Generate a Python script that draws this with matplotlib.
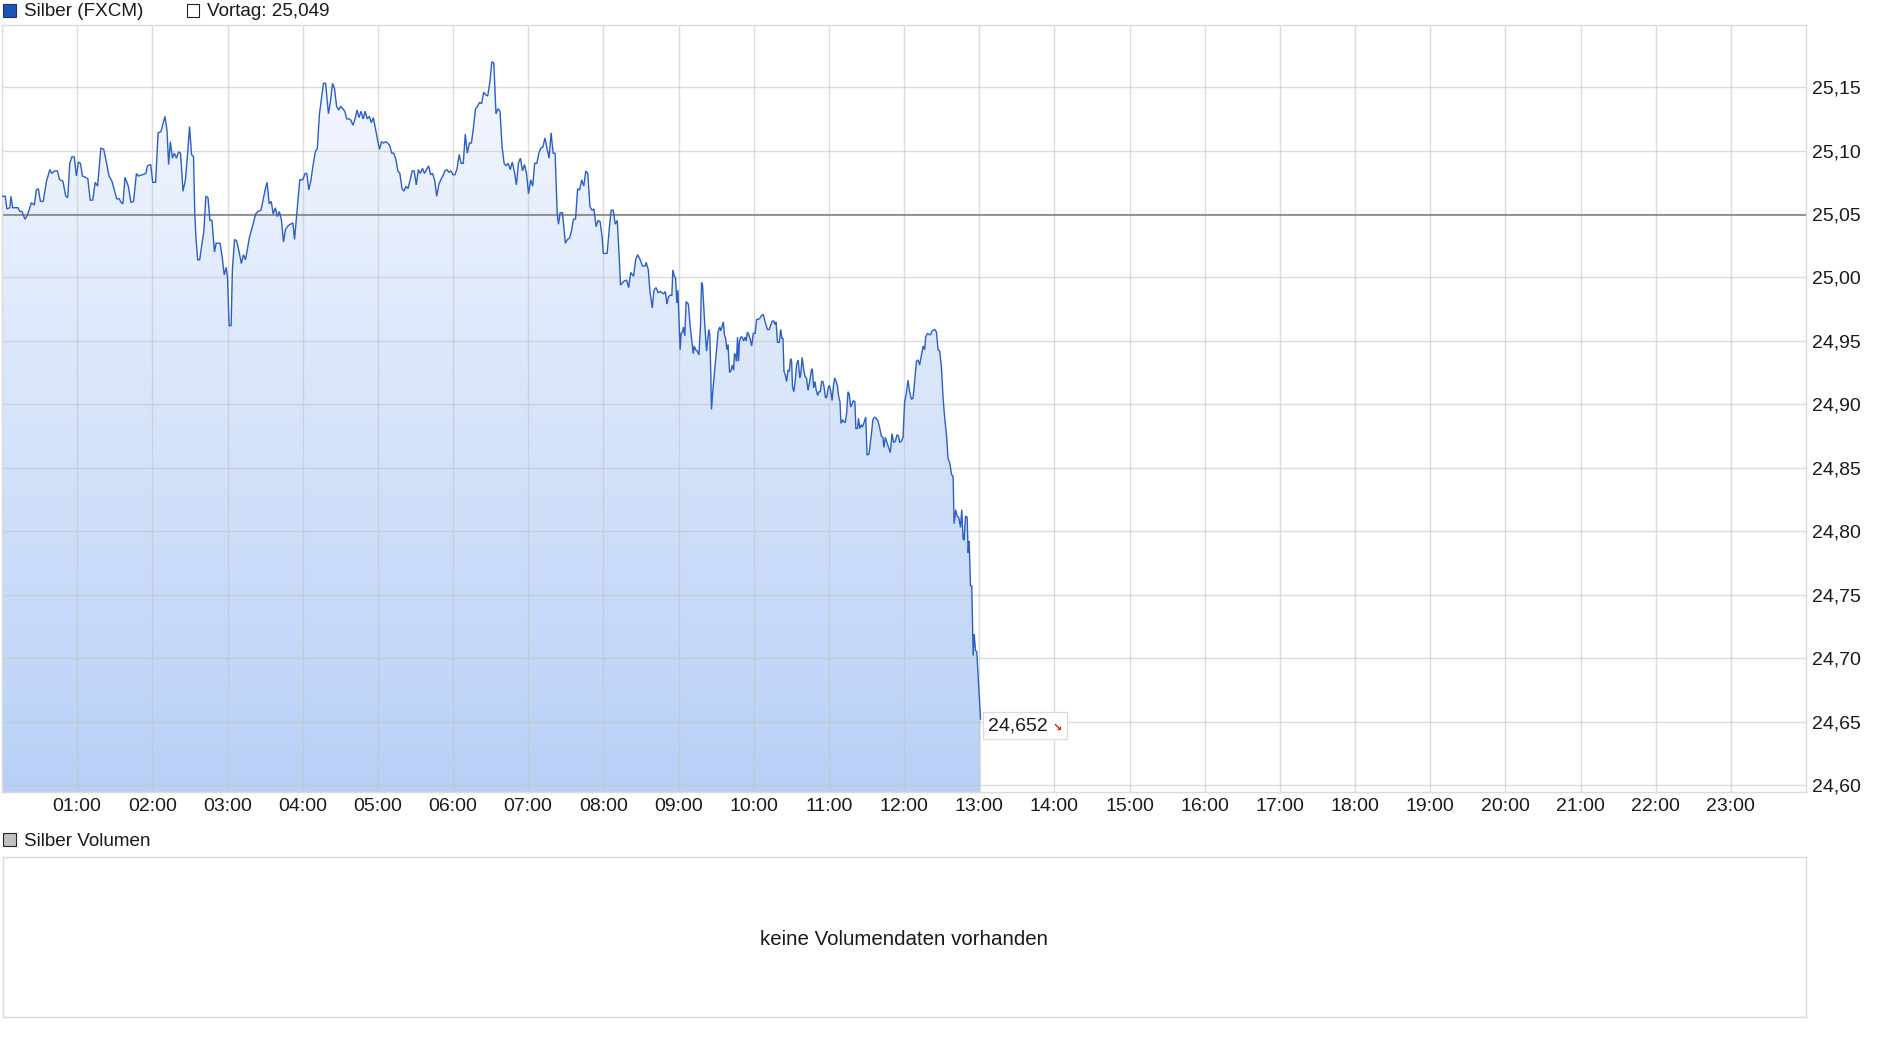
import numpy as np
import matplotlib
matplotlib.use("Agg")
import matplotlib.pyplot as plt
from matplotlib.patches import Rectangle
from matplotlib.colors import LinearSegmentedColormap
from matplotlib.transforms import Affine2D, ScaledTranslation

# ---------------- data ----------------
series_name = "Silber (FXCM)"
volume_name = "Silber Volumen"
no_volume_text = "keine Volumendaten vorhanden"
previous_close = 25.049
previous_label = "Vortag: 25,049"
last_price_label = "24,652"

# minutes after midnight
minutes = [
    0.7, 2.6, 3.9, 6.2, 7.2, 8.5, 12.7, 14.3, 16.0, 18.3, 19.6, 20.9, 23.5, 25.8, 27.4, 29.0,
    30.7, 32.9, 35.5, 38.2, 39.8, 42.1, 44.3, 46.0, 48.6, 50.9, 52.5, 54.1, 55.8, 57.7, 59.4,
    61.0, 62.6, 64.2, 66.5, 68.5, 70.4, 72.4, 74.4, 76.3, 78.9, 81.2, 83.5, 85.4, 87.7, 89.4,
    91.6, 93.6, 95.2, 96.5, 98.2, 100.8, 103.0, 105.0, 107.3, 108.9, 112.2, 114.8, 116.1,
    118.7, 120.3, 122.6, 124.6, 126.9, 128.5, 130.1, 131.7, 133.0, 134.4, 136.0, 137.6,
    139.2, 140.9, 142.5, 144.5, 146.4, 148.1, 149.7, 151.3, 152.9, 153.9, 154.9, 156.2,
    157.8, 159.5, 161.1, 162.7, 164.4, 166.0, 167.6, 169.6, 170.9, 174.1, 175.8, 177.4,
    179.0, 180.0, 181.3, 182.9, 183.9, 185.6, 187.2, 189.1, 191.1, 192.7, 194.4, 196.0,
    197.6, 199.3, 200.9, 202.5, 204.1, 206.7, 208.4, 210.0, 211.6, 213.3, 214.9, 216.5,
    218.2, 219.8, 221.4, 223.1, 224.7, 226.3, 228.6, 230.2, 232.2, 233.5, 235.1, 237.7,
    240.0, 242.0, 243.3, 244.9, 246.5, 248.2, 250.1, 251.7, 253.4, 255.0, 256.6, 258.3,
    260.6, 262.2, 263.8, 265.4, 267.1, 268.7, 270.3, 272.0, 273.6, 275.2, 276.9, 278.5,
    280.1, 281.8, 283.4, 285.0, 286.6, 288.3, 289.9, 291.5, 293.2, 294.8, 296.4, 298.1,
    299.7, 301.3, 302.9, 304.6, 306.2, 307.8, 309.5, 311.1, 312.7, 314.4, 316.0, 317.6,
    319.3, 320.9, 322.5, 324.1, 325.8, 327.4, 329.0, 330.7, 332.3, 333.9, 335.6, 337.2,
    338.8, 340.5, 342.1, 343.7, 345.3, 347.0, 348.6, 350.2, 351.9, 353.5, 355.1, 356.8,
    358.4, 360.0, 361.6, 363.3, 364.9, 366.5, 368.2, 369.8, 371.4, 373.1, 374.7, 376.3,
    378.0, 379.6, 381.2, 382.8, 384.5, 386.1, 387.7, 389.4, 391.0, 392.6, 394.3, 395.9,
    397.5, 399.2, 400.8, 402.4, 404.0, 405.7, 407.3, 408.9, 410.6, 412.2, 413.8, 415.5,
    417.1, 418.7, 420.3, 422.0, 423.6, 425.2, 426.9, 428.5, 430.1, 431.8, 433.4, 435.0,
    436.7, 438.3, 439.9, 441.5, 443.2, 444.2, 445.5, 447.4, 449.7, 451.3, 453.0, 454.6,
    456.2, 457.8, 459.5, 461.1, 462.7, 464.4, 466.0, 467.6, 469.3, 470.9, 472.5, 474.2,
    475.8, 477.4, 479.0, 480.0, 483.0, 484.6, 486.2, 487.9, 489.5, 491.1, 492.7, 493.7,
    496.3, 498.6, 500.2, 501.9, 504.1, 505.8, 507.4, 509.4, 511.3, 513.3, 514.2, 515.9,
    517.2, 519.1, 520.4, 522.1, 523.7, 525.5, 526.8, 528.2, 529.5, 530.8, 532.1, 533.4,
    534.7, 535.5, 536.6, 537.6, 538.7, 539.5, 540.5, 541.3, 542.1, 543.2, 543.9, 545.0,
    546.1, 547.9, 549.2, 550.5, 551.8, 552.6, 553.7, 555.0, 556.3, 557.6, 558.4, 559.2,
    560.5, 561.8, 562.4, 563.2, 564.2, 565.0, 565.8, 566.3, 567.6, 569.0, 570.3, 571.6,
    572.9, 573.7, 574.7, 575.8, 576.8, 577.6, 578.7, 579.5, 580.8, 582.1, 582.9, 584.0,
    584.7, 585.5, 586.3, 587.1, 587.9, 588.7, 589.7, 590.8, 591.9, 593.2, 594.0, 595.0,
    596.1, 597.1, 598.4, 599.7, 601.1, 602.4, 603.7, 605.0, 606.3, 607.6, 608.7, 609.7,
    611.1, 612.4, 614.5, 615.8, 617.1, 617.9, 619.0, 620.5, 621.6, 622.6, 623.4, 624.2,
    625.3, 626.3, 627.4, 628.4, 629.5, 630.3, 631.0, 632.1, 633.2, 634.2, 635.5, 636.8,
    637.6, 638.7, 640.0, 641.0, 642.1, 643.4, 644.7, 646.1, 646.8, 647.9, 648.9, 650.0,
    651.1, 652.1, 653.2, 654.2, 655.3, 656.3, 657.4, 658.4, 659.5, 660.5, 661.6, 662.6,
    663.7, 664.7, 665.8, 666.8, 667.9, 668.9, 669.7, 671.1, 672.1, 673.2, 674.2, 675.3,
    676.3, 677.4, 678.4, 679.5, 680.8, 681.6, 682.9, 683.7, 684.7, 685.8, 686.8, 688.2,
    689.5, 690.5, 692.1, 693.9, 695.2, 696.5, 697.9, 699.2, 700.5, 701.9, 703.2, 704.0,
    705.1, 706.4, 707.7, 709.1, 710.4, 711.7, 713.1, 714.4, 715.7, 716.5, 717.9, 719.2,
    720.5, 721.9, 723.2, 724.5, 725.9, 727.2, 728.5, 729.9, 731.2, 732.5, 733.9, 735.2,
    736.5, 737.3, 738.7, 740.0, 741.3, 742.4, 744.5, 745.9, 747.2, 748.5, 749.9, 751.2,
    752.5, 753.9, 755.2, 756.5, 757.9, 759.2, 760.0, 761.3, 762.4, 763.7, 765.1, 766.1,
    767.2, 768.0, 769.1, 770.4, 771.2, 772.0, 773.1, 774.1, 775.2, 776.0, 777.1, 778.1,
    781.1,
]

prices = [
    25.064, 25.064, 25.054, 25.055, 25.064, 25.055, 25.055, 25.052, 25.052, 25.046, 25.048,
    25.051, 25.059, 25.057, 25.069, 25.070, 25.060, 25.060, 25.076, 25.085, 25.082, 25.084,
    25.084, 25.077, 25.076, 25.064, 25.063, 25.090, 25.095, 25.095, 25.080, 25.091, 25.090,
    25.080, 25.079, 25.078, 25.061, 25.061, 25.075, 25.072, 25.102, 25.101, 25.090, 25.080,
    25.076, 25.070, 25.062, 25.062, 25.059, 25.058, 25.079, 25.072, 25.059, 25.060, 25.082,
    25.080, 25.081, 25.082, 25.088, 25.089, 25.075, 25.075, 25.114, 25.115, 25.121, 25.127,
    25.116, 25.089, 25.107, 25.094, 25.098, 25.094, 25.099, 25.098, 25.068, 25.077, 25.097,
    25.119, 25.097, 25.095, 25.050, 25.030, 25.014, 25.014, 25.026, 25.036, 25.064, 25.063,
    25.045, 25.045, 25.020, 25.027, 25.027, 25.016, 25.002, 25.008, 25.000, 24.962, 24.962,
    25.006, 25.030, 25.029, 25.021, 25.011, 25.018, 25.014, 25.023, 25.032, 25.038, 25.044,
    25.050, 25.052, 25.053, 25.061, 25.069, 25.075, 25.058, 25.060, 25.050, 25.055, 25.048,
    25.052, 25.045, 25.028, 25.038, 25.041, 25.042, 25.043, 25.030, 25.048, 25.077, 25.077,
    25.082, 25.082, 25.069, 25.076, 25.088, 25.099, 25.102, 25.129, 25.141, 25.153, 25.153,
    25.129, 25.139, 25.153, 25.149, 25.135, 25.132, 25.135, 25.133, 25.131, 25.125, 25.125,
    25.124, 25.120, 25.125, 25.132, 25.126, 25.131, 25.125, 25.131, 25.125, 25.127, 25.122,
    25.126, 25.117, 25.109, 25.101, 25.107, 25.106, 25.107, 25.106, 25.104, 25.098, 25.098,
    25.093, 25.084, 25.082, 25.070, 25.068, 25.072, 25.070, 25.077, 25.084, 25.084, 25.073,
    25.085, 25.082, 25.086, 25.082, 25.085, 25.088, 25.081, 25.082, 25.077, 25.064, 25.073,
    25.077, 25.080, 25.084, 25.085, 25.083, 25.084, 25.081, 25.081, 25.086, 25.097, 25.090,
    25.090, 25.113, 25.098, 25.106, 25.106, 25.118, 25.133, 25.135, 25.138, 25.137, 25.146,
    25.144, 25.143, 25.154, 25.170, 25.169, 25.129, 25.133, 25.131, 25.103, 25.090, 25.088,
    25.090, 25.085, 25.091, 25.084, 25.073, 25.090, 25.094, 25.084, 25.089, 25.082, 25.066,
    25.077, 25.072, 25.090, 25.090, 25.098, 25.102, 25.103, 25.110, 25.102, 25.094, 25.114,
    25.098, 25.098, 25.050, 25.042, 25.051, 25.051, 25.027, 25.030, 25.031, 25.037, 25.046,
    25.046, 25.070, 25.069, 25.077, 25.072, 25.084, 25.082, 25.056, 25.053, 25.054, 25.040,
    25.045, 25.044, 25.032, 25.019, 25.019, 25.037, 25.053, 25.053, 25.042, 25.045, 25.016,
    24.994, 24.997, 24.998, 24.992, 25.004, 25.001, 25.014, 25.018, 25.014, 25.009, 25.009,
    25.012, 25.006, 24.989, 24.976, 24.990, 24.992, 24.988, 24.989, 24.988, 24.987, 24.989,
    24.979, 24.985, 24.986, 24.986, 25.006, 25.001, 25.000, 24.980, 24.990, 24.963, 24.943,
    24.956, 24.957, 24.961, 24.954, 24.981, 24.979, 24.963, 24.951, 24.940, 24.946, 24.943,
    24.942, 24.939, 24.963, 24.996, 24.994, 24.971, 24.950, 24.942, 24.950, 24.959, 24.955,
    24.923, 24.896, 24.913, 24.928, 24.942, 24.957, 24.961, 24.958, 24.961, 24.965, 24.954,
    24.952, 24.943, 24.947, 24.925, 24.927, 24.931, 24.927, 24.940, 24.939, 24.934, 24.953,
    24.934, 24.950, 24.953, 24.953, 24.950, 24.953, 24.950, 24.957, 24.955, 24.952, 24.946,
    24.956, 24.956, 24.967, 24.967, 24.968, 24.970, 24.971, 24.967, 24.963, 24.959, 24.959,
    24.965, 24.966, 24.963, 24.965, 24.949, 24.949, 24.959, 24.952, 24.952, 24.926, 24.923,
    24.918, 24.927, 24.926, 24.936, 24.934, 24.914, 24.910, 24.919, 24.931, 24.935, 24.921,
    24.924, 24.937, 24.927, 24.922, 24.921, 24.911, 24.918, 24.927, 24.928, 24.913, 24.918,
    24.911, 24.907, 24.910, 24.910, 24.918, 24.918, 24.913, 24.905, 24.906, 24.913, 24.915,
    24.910, 24.903, 24.915, 24.921, 24.918, 24.915, 24.906, 24.902, 24.885, 24.888, 24.886,
    24.886, 24.893, 24.910, 24.908, 24.898, 24.900, 24.903, 24.902, 24.881, 24.881, 24.889,
    24.881, 24.884, 24.882, 24.886, 24.890, 24.860, 24.861, 24.876, 24.888, 24.890, 24.889,
    24.887, 24.882, 24.875, 24.874, 24.866, 24.874, 24.870, 24.866, 24.862, 24.877, 24.870,
    24.871, 24.876, 24.875, 24.870, 24.871, 24.874, 24.902, 24.909, 24.919, 24.910, 24.904,
    24.905, 24.918, 24.934, 24.935, 24.931, 24.939, 24.946, 24.943, 24.953, 24.956, 24.955,
    24.955, 24.958, 24.959, 24.957, 24.943, 24.942, 24.929, 24.905, 24.889, 24.876, 24.857,
    24.854, 24.845, 24.843, 24.806, 24.817, 24.812, 24.811, 24.803, 24.817, 24.794, 24.793,
    24.812, 24.811, 24.783, 24.792, 24.757, 24.757, 24.702, 24.719, 24.706, 24.705, 24.652,
]

hour_ticks = list(range(60, 1440, 60))
hour_labels = [f"{h:02d}:00" for h in range(1, 24)]
y_ticks = [24.60, 24.65, 24.70, 24.75, 24.80, 24.85, 24.90, 24.95, 25.00, 25.05, 25.10, 25.15]
y_labels = [f"{v:.2f}".replace(".", ",") for v in y_ticks]

# ---------------- style / layout ----------------
plt.rcParams["font.family"] = ["Liberation Sans", "DejaVu Sans"]
W, H = 1880, 1037
fig = plt.figure(figsize=(W / 100, H / 100), dpi=100)
fig.patch.set_facecolor("white")


def fx(px):
    return px / W


def fy(py):
    return 1 - py / H


TXT = "#1a1a1a"
GRID = "#dadada"
FS_TICK = 14
FS_LEG = 13.6
FS_VOL = 14.8

y_lo, y_hi = 24.5945, 25.199
ax = fig.add_axes([fx(2), fy(792), fx(1806) - fx(2), fy(25) - fy(792)])

t = np.array(minutes)
p = np.array(prices)

poly = ax.fill_between(t, p, y_lo, facecolor="none", edgecolor="none")
grad = np.linspace(0, 1, 256).reshape(-1, 1)
cmap = LinearSegmentedColormap.from_list("g", ["#b8d0f7", "#f7f9fe"])
im = ax.imshow(grad, extent=[0, 1440, y_lo, y_hi], origin="lower", aspect="auto",
               cmap=cmap, zorder=1, interpolation="bilinear")
im.set_clip_path(poly.get_paths()[0], transform=ax.transData)

ax.plot(t, p, color="#2b5fc6", lw=1.0, zorder=3, solid_joinstyle="miter")
ax.axhline(previous_close, color="#7a7a7a", lw=1.1, zorder=2.5)

ax.set_xlim(0, 1440)
ax.set_ylim(y_lo, y_hi)
ax.set_xticks(hour_ticks)
ax.set_xticklabels(hour_labels)
ax.set_yticks(y_ticks)
ax.set_yticklabels(y_labels)
ax.yaxis.tick_right()
ax.tick_params(axis="both", length=0, labelsize=FS_TICK, colors=TXT)
ax.tick_params(axis="x", pad=4.3)
ax.tick_params(axis="y", pad=4.5)
ax.grid(True, color="#c4c4c4", alpha=0.6, lw=1.0, zorder=1.5)
for s in ax.spines.values():
    s.set_color(GRID)
    s.set_linewidth(1.0)

# last price label (box in pixels relative to the last data point)
anchor = ScaledTranslation(t[-1], p[-1], ax.transData)
box_tr = Affine2D() + anchor
ax.add_artist(Rectangle((2, -20), 84, 27, transform=box_tr, facecolor="white",
                        edgecolor="#dcdcdc", lw=0.9, zorder=5, clip_on=False))
ax.annotate(last_price_label, xy=(t[-1], p[-1]), xytext=(7, -7),
            textcoords="offset pixels", ha="left", va="center", fontsize=FS_TICK,
            color=TXT, zorder=6, annotation_clip=False)
ax.annotate("\u2198", xy=(t[-1], p[-1]), xytext=(77, -9), textcoords="offset pixels",
            ha="center", va="center", fontsize=8, color="#e01010",
            family=["DejaVu Sans"], fontweight="bold", zorder=6, annotation_clip=False)

# legend items at top
fig.add_artist(Rectangle((fx(3), fy(17)), 13 / W, 13 / H, transform=fig.transFigure,
                         facecolor="#1e54b7", edgecolor="#16367a", lw=0.8))
fig.text(fx(24), fy(12), series_name, fontsize=FS_LEG, color=TXT, ha="left", va="center")
fig.add_artist(Rectangle((fx(187), fy(17)), 12 / W, 13 / H, transform=fig.transFigure,
                         facecolor="white", edgecolor="#222222", lw=0.8))
fig.text(fx(207), fy(12), previous_label, fontsize=FS_LEG, color=TXT, ha="left", va="center")

# volume panel
fig.add_artist(Rectangle((fx(3), fy(846)), 13 / W, 13 / H, transform=fig.transFigure,
                         facecolor="#c0c0c0", edgecolor="#222222", lw=0.8))
fig.text(fx(24), fy(841), volume_name, fontsize=FS_LEG, color=TXT, ha="left", va="center")

vax = fig.add_axes([fx(3), fy(1017), fx(1806) - fx(3), fy(857) - fy(1017)])
vax.set_xticks([])
vax.set_yticks([])
for s in vax.spines.values():
    s.set_color(GRID)
    s.set_linewidth(1.0)
vax.text(0.5, 0.5, no_volume_text, transform=vax.transAxes, ha="center", va="center",
         fontsize=FS_VOL, color=TXT)
vax.texts[-1].set_y(0.485)

fig.savefig("out.png", dpi=100, facecolor="white")
